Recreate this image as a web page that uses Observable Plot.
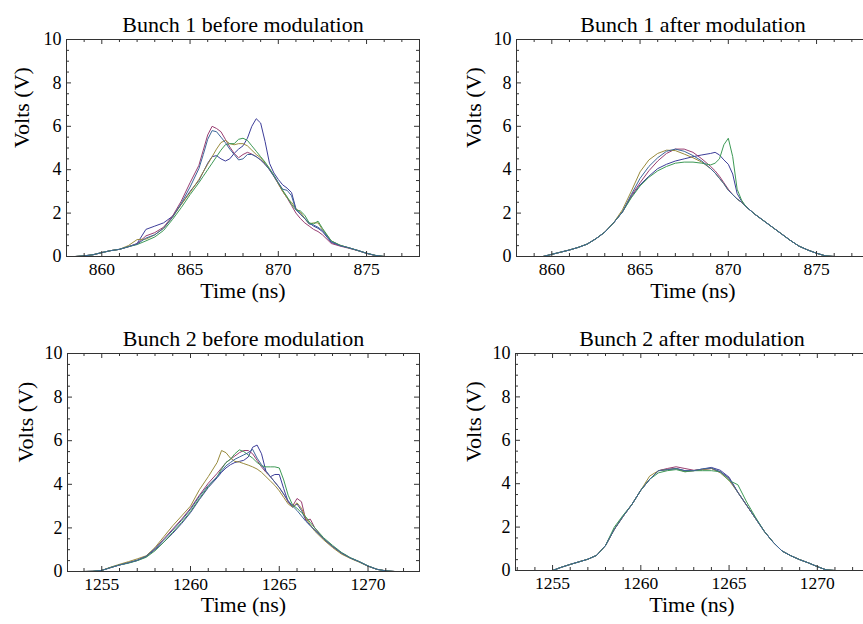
<!DOCTYPE html>
<html><head><meta charset="utf-8">
<script src="https://cdn.jsdelivr.net/npm/d3@7"></script>
<script src="https://cdn.jsdelivr.net/npm/@observablehq/plot@0.6"></script>
<style>
html,body{margin:0;padding:0;background:#fff;overflow:hidden;width:863px;height:624px;}
#wrap{position:relative;width:863px;height:624px;overflow:hidden;background:#fff;}
.panel{position:absolute;overflow:visible;}
#wrap svg{max-width:none !important;font-family:"Liberation Serif","Times New Roman",serif !important;}
#wrap svg text{font-family:"Liberation Serif","Times New Roman",serif !important;}
</style></head><body><div id="wrap"></div>
<script>
const colors = ["#3d3d99", "#993d71", "#998b3d", "#3d9955", "#3d6699"];
const titles = ["Bunch 1 before modulation", "Bunch 1 after modulation", "Bunch 2 before modulation", "Bunch 2 after modulation"];
const yTicks = [0, 2, 4, 6, 8, 10];

// ---- Bunch 1 before modulation
const t1 = [858.5,859,859.5,860,860.5,861,861.5,862,862.5,863,863.5,864,864.5,865,865.5,865.75,866,866.25,866.5,866.75,867,867.25,867.5,867.75,868,868.25,868.5,868.75,869,869.25,869.5,869.75,870,870.25,870.5,870.75,871,871.25,871.5,871.75,872,872.25,872.5,873,873.5,874,874.5,875,875.5,876];
const b1before_s1 = [0,0.03,0.08,0.18,0.27,0.33,0.45,0.6,1.25,1.4,1.55,1.85,2.4,3.0,3.5,3.9,4.3,4.6,4.65,4.5,4.4,4.5,4.75,4.95,5.1,5.45,6.0,6.35,6.15,5.3,4.3,3.85,3.55,3.3,3.15,2.95,2.2,1.95,1.75,1.55,1.4,1.3,1.15,0.65,0.5,0.4,0.28,0.15,0.05,0];
const b1before_s2 = [0,0.03,0.08,0.18,0.27,0.33,0.45,0.58,0.95,1.1,1.35,1.85,2.55,3.4,4.2,4.9,5.6,6.0,5.9,5.75,5.4,5.05,4.75,4.55,4.7,4.8,4.72,4.6,4.45,4.25,4.0,3.7,3.35,3.0,2.7,2.35,2.0,1.75,1.55,1.4,1.25,1.15,1.0,0.6,0.48,0.38,0.27,0.14,0.04,0];
const b1before_s3 = [0,0.03,0.08,0.18,0.27,0.33,0.5,0.78,0.8,1.0,1.3,1.8,2.4,2.95,3.55,3.9,4.25,4.6,4.95,5.25,5.35,5.2,5.15,5.2,5.2,5.1,4.9,4.7,4.55,4.3,4.05,3.7,3.35,3.0,2.7,2.5,2.2,2.05,1.75,1.5,1.55,1.55,1.25,0.72,0.52,0.4,0.28,0.15,0.05,0];
const b1before_s4 = [0,0.03,0.08,0.18,0.27,0.33,0.45,0.55,0.72,0.9,1.2,1.7,2.25,2.85,3.4,3.7,4.0,4.3,4.6,4.9,5.15,5.2,5.2,5.4,5.45,5.35,5.1,4.85,4.6,4.35,4.05,3.75,3.4,3.05,2.75,2.4,2.15,2.1,1.9,1.55,1.5,1.63,1.3,0.72,0.52,0.4,0.28,0.15,0.05,0];
const b1before_s5 = [0,0.03,0.08,0.18,0.27,0.33,0.45,0.57,0.85,1.0,1.3,1.8,2.45,3.2,4.05,4.7,5.4,5.8,5.75,5.5,5.25,4.95,4.7,4.45,4.5,4.7,4.7,4.6,4.45,4.25,4.0,3.7,3.4,3.1,3.05,2.8,2.15,1.95,1.75,1.5,1.45,1.35,1.2,0.68,0.5,0.4,0.28,0.15,0.05,0];

// ---- Bunch 1 after modulation
const t2 = [859.5,860,860.5,861,861.5,862,862.5,863,863.5,864,864.5,865,865.5,866,866.5,867,867.5,868,868.5,869,869.25,869.5,869.75,870,870.25,870.5,870.75,871,871.5,872,872.5,873,873.5,874,874.5,875,875.5,876];
const b1after_s1 = [0,0.1,0.2,0.3,0.42,0.57,0.82,1.12,1.55,2.05,2.75,3.3,3.7,4.05,4.25,4.4,4.5,4.6,4.68,4.75,4.8,4.68,4.45,4.25,3.8,2.9,2.55,2.3,1.95,1.65,1.35,1.05,0.75,0.48,0.3,0.15,0.03,0];
const b1after_s2 = [0,0.1,0.2,0.3,0.42,0.57,0.82,1.12,1.55,2.05,2.8,3.4,3.95,4.4,4.75,4.95,4.95,4.8,4.5,4.15,3.95,3.7,3.4,3.1,2.85,2.65,2.5,2.3,1.95,1.65,1.35,1.05,0.75,0.48,0.3,0.15,0.03,0];
const b1after_s3 = [0,0.1,0.2,0.3,0.42,0.57,0.82,1.12,1.55,2.15,3.0,3.9,4.45,4.75,4.9,4.88,4.72,4.55,4.35,4.05,3.85,3.6,3.35,3.05,2.85,2.65,2.5,2.3,1.95,1.65,1.35,1.05,0.75,0.48,0.3,0.15,0.03,0];
const b1after_s4 = [0,0.1,0.2,0.3,0.42,0.57,0.82,1.12,1.55,2.05,2.7,3.25,3.65,3.95,4.15,4.3,4.35,4.35,4.3,4.22,4.3,4.5,5.15,5.45,4.6,3.1,2.6,2.3,1.95,1.65,1.35,1.05,0.75,0.48,0.3,0.15,0.03,0];
const b1after_s5 = [0,0.1,0.2,0.3,0.42,0.57,0.82,1.12,1.55,2.05,2.85,3.6,4.15,4.55,4.85,4.95,4.85,4.65,4.4,4.05,3.85,3.6,3.35,3.05,2.85,2.65,2.5,2.3,1.95,1.65,1.35,1.05,0.75,0.48,0.3,0.15,0.03,0];

// ---- Bunch 2 before modulation
const t3 = [1254,1254.5,1255,1255.5,1256,1256.5,1257,1257.5,1258,1258.5,1259,1259.5,1260,1260.5,1261,1261.5,1261.75,1262,1262.25,1262.5,1262.75,1263,1263.25,1263.5,1263.75,1264,1264.25,1264.5,1264.75,1265,1265.25,1265.5,1265.75,1266,1266.25,1266.5,1266.75,1267,1267.5,1268,1268.5,1269,1269.5,1270,1270.5,1271,1271.5];
const b2before_s1 = [0,0.01,0.05,0.18,0.3,0.4,0.5,0.68,1.0,1.35,1.75,2.2,2.7,3.3,3.85,4.3,4.55,4.75,4.9,5.0,5.05,5.1,5.25,5.7,5.8,5.4,4.6,4.35,4.45,4.45,3.8,3.2,2.95,3.1,2.8,2.35,2.1,1.9,1.5,1.15,0.85,0.62,0.45,0.25,0.1,0.03,0];
const b2before_s2 = [0,0.01,0.05,0.18,0.3,0.4,0.52,0.7,1.05,1.5,1.95,2.4,2.9,3.5,4.05,4.5,4.75,5.0,5.15,5.3,5.45,5.55,5.55,5.4,5.1,4.8,4.55,4.35,4.1,3.85,3.55,3.2,3.0,3.35,3.2,2.35,2.4,2.0,1.5,1.15,0.85,0.62,0.45,0.25,0.1,0.03,0];
const b2before_s3 = [0,0.01,0.05,0.2,0.33,0.45,0.58,0.72,1.1,1.6,2.1,2.55,3.0,3.75,4.35,5.0,5.55,5.45,5.2,5.05,5.02,4.95,4.88,4.8,4.7,4.55,4.35,4.15,3.95,3.7,3.4,3.1,2.95,3.15,2.9,2.45,2.15,1.85,1.45,1.1,0.8,0.6,0.43,0.24,0.1,0.03,0];
const b2before_s4 = [0,0.01,0.05,0.18,0.3,0.38,0.5,0.65,0.95,1.35,1.8,2.25,2.75,3.35,3.9,4.35,4.7,5.0,5.15,5.4,5.58,5.5,5.35,5.2,5.0,4.85,4.8,4.8,4.8,4.75,4.2,3.5,3.05,2.9,2.7,2.5,2.25,2.0,1.55,1.2,0.88,0.64,0.46,0.26,0.1,0.03,0];
const b2before_s5 = [0,0.01,0.05,0.18,0.3,0.4,0.52,0.7,1.05,1.45,1.9,2.35,2.85,3.45,3.95,4.35,4.6,4.85,5.0,5.15,5.25,5.35,5.45,5.6,5.2,4.9,4.6,4.35,4.1,3.85,3.55,3.25,3.0,2.8,2.55,2.3,2.1,1.9,1.5,1.15,0.85,0.62,0.45,0.25,0.1,0.03,0];

// ---- Bunch 2 after modulation
const t4 = [1255,1255.5,1256,1256.5,1257,1257.5,1258,1258.5,1259,1259.5,1260,1260.5,1261,1261.5,1262,1262.5,1263,1263.5,1264,1264.5,1265,1265.5,1266,1266.5,1267,1267.5,1268,1268.5,1269,1269.5,1270,1270.5,1271];
const b2after_s1 = [0,0.15,0.28,0.4,0.52,0.7,1.15,1.9,2.5,3.05,3.7,4.2,4.6,4.65,4.7,4.6,4.6,4.68,4.75,4.62,4.3,3.6,3.0,2.4,1.8,1.3,0.9,0.68,0.5,0.35,0.18,0.03,0];
const b2after_s2 = [0,0.15,0.28,0.4,0.52,0.7,1.15,1.9,2.5,3.05,3.7,4.2,4.6,4.7,4.78,4.7,4.62,4.65,4.7,4.55,4.25,3.6,3.0,2.4,1.8,1.3,0.9,0.68,0.5,0.35,0.18,0.03,0];
const b2after_s3 = [0,0.15,0.28,0.4,0.52,0.7,1.15,1.9,2.5,3.05,3.7,4.35,4.6,4.65,4.7,4.55,4.6,4.65,4.7,4.5,4.15,3.6,3.0,2.4,1.8,1.3,0.9,0.68,0.5,0.35,0.18,0.03,0];
const b2after_s4 = [0,0.15,0.28,0.4,0.52,0.7,1.15,2.0,2.55,3.05,3.7,4.2,4.5,4.6,4.65,4.55,4.6,4.6,4.6,4.55,4.15,3.95,3.15,2.45,1.8,1.3,0.9,0.68,0.5,0.35,0.18,0.03,0];
const b2after_s5 = [0,0.15,0.28,0.4,0.52,0.7,1.15,1.9,2.5,3.05,3.7,4.2,4.6,4.65,4.7,4.6,4.6,4.68,4.72,4.55,4.25,3.6,3.0,2.4,1.8,1.3,0.9,0.68,0.5,0.35,0.18,0.03,0];

const panels = [
  {title: titles[0], t: t1, series: [b1before_s1, b1before_s2, b1before_s3, b1before_s4, b1before_s5], domain: [858, 878], left: 0, top: 0, width: 432, height: 312, mL: 66, mR: 13, mT: 39, mB: 56, labelDx: -45, xLabelDy: 41, titleDy: -23},
  {title: titles[1], t: t2, series: [b1after_s1, b1after_s2, b1after_s3, b1after_s4, b1after_s5], domain: [858, 878], left: 432, top: 0, width: 450, height: 312, mL: 84, mR: 13, mT: 39, mB: 56, labelDx: -43, xLabelDy: 41, titleDy: -23},
  {title: titles[2], t: t3, series: [b2before_s1, b2before_s2, b2before_s3, b2before_s4, b2before_s5], domain: [1253.07, 1272.9], left: 0, top: 312, width: 432, height: 312, mL: 67, mR: 13, mT: 41, mB: 53, labelDx: -42, xLabelDy: 40, titleDy: -23},
  {title: titles[3], t: t4, series: [b2after_s1, b2after_s2, b2after_s3, b2after_s4, b2after_s5], domain: [1252.9, 1272.9], left: 432, top: 312, width: 450, height: 312, mL: 83, mR: 14, mT: 41, mB: 54, labelDx: -42, xLabelDy: 41, titleDy: -23}
];

const serif = "Liberation Serif";
const frameColor = "#333";
function makePanel(c) {
  const plotW = c.width - c.mL - c.mR, plotH = c.height - c.mT - c.mB;
  const xAll = d3.range(Math.ceil(c.domain[0]), Math.floor(c.domain[1]) + 1);
  const xMajor = xAll.filter(d => d % 5 === 0);
  const xMinor = xAll.filter(d => d % 5 !== 0);
  const yAll = d3.range(0, 10.001, 0.5);
  const yMinor = yAll.filter(d => d % 2 !== 0);
  const lines = c.series.map((ys, i) =>
    Plot.line(c.t.map((tt, j) => ({t: tt, v: ys[j]})), {x: "t", y: "v", stroke: colors[i], strokeWidth: 1, clip: true}));
  const MAJ = 5, MIN = 3;
  return Plot.plot({
    width: c.width, height: c.height,
    marginLeft: c.mL, marginRight: c.mR, marginTop: c.mT, marginBottom: c.mB,
    x: {domain: c.domain},
    y: {domain: [0, 10]},
    style: "font-family: 'Liberation Serif', serif; font-size: 17px; color: #000; background: transparent; overflow: visible; max-width: none;",
    marks: [
      ...lines,
      Plot.tickX(xMajor, {x: d => d, insetTop: plotH - MAJ, stroke: frameColor}),
      Plot.tickX(xMinor, {x: d => d, insetTop: plotH - MIN, stroke: frameColor}),
      Plot.tickX(xMajor, {x: d => d, insetBottom: plotH - MAJ, stroke: frameColor}),
      Plot.tickX(xMinor, {x: d => d, insetBottom: plotH - MIN, stroke: frameColor}),
      Plot.tickY(yTicks, {y: d => d, insetRight: plotW - MAJ, stroke: frameColor}),
      Plot.tickY(yMinor, {y: d => d, insetRight: plotW - MIN, stroke: frameColor}),
      Plot.tickY(yTicks, {y: d => d, insetLeft: plotW - MAJ, stroke: frameColor}),
      Plot.tickY(yMinor, {y: d => d, insetLeft: plotW - MIN, stroke: frameColor}),
      Plot.frame({stroke: frameColor, strokeWidth: 1}),
      Plot.axisX({ticks: xMajor, tickSize: 0, tickPadding: 6, label: null, tickFormat: d => String(d), fontSize: 17.5, fontFamily: serif}),
      Plot.axisY({ticks: yTicks, tickSize: 0, tickPadding: 5, label: null, tickFormat: d => String(d), fontSize: 18, fontFamily: serif}),
      Plot.text([c.title], {text: d => d, frameAnchor: "top", dy: c.titleDy, fontSize: 22, fontFamily: serif}),
      Plot.text(["Time (ns)"], {text: d => d, frameAnchor: "bottom", dy: c.xLabelDy, fontSize: 22, fontFamily: serif}),
      Plot.text(["Volts (V)"], {text: d => d, frameAnchor: "left", dx: c.labelDx, rotate: -90, fontSize: 22, fontFamily: serif})
    ]
  });
}

const wrap = document.getElementById("wrap");
for (const c of panels) {
  const div = document.createElement("div");
  div.className = "panel";
  div.style.left = c.left + "px";
  div.style.top = c.top + "px";
  div.style.width = c.width + "px";
  div.style.height = c.height + "px";
  div.appendChild(makePanel(c));
  wrap.appendChild(div);
}
</script>
</body></html>
